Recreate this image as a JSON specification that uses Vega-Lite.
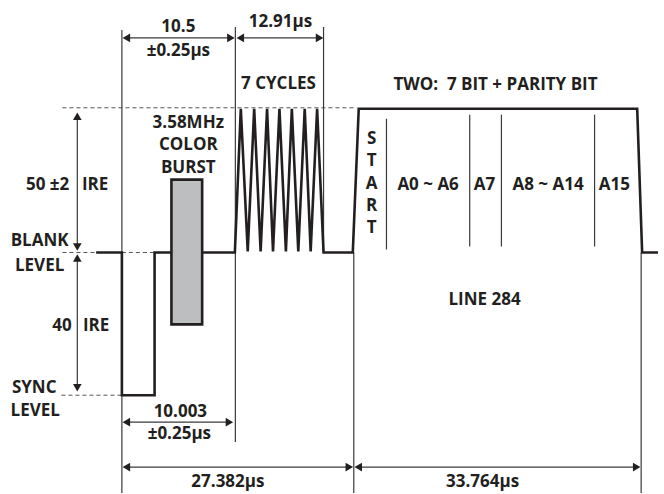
{
  "$schema": "https://vega.github.io/schema/vega-lite/v6.json",
  "width": 664,
  "height": 494,
  "autosize": {"type": "fit", "contains": "padding"},
  "padding": 0,
  "background": "white",
  "config": {"view": {"stroke": null}, "axis": {"disable": true}},
  "datasets": {
    "trace": [
      {"i": 0, "x": 97, "y": 253}, {"i": 1, "x": 123, "y": 253}, {"i": 2, "x": 123, "y": 396},
      {"i": 3, "x": 156, "y": 396}, {"i": 4, "x": 156, "y": 253}, {"i": 5, "x": 237, "y": 253},
      {"i": 6, "x": 243, "y": 109}, {"i": 7, "x": 250, "y": 252}, {"i": 8, "x": 256.5, "y": 109},
      {"i": 9, "x": 263, "y": 252}, {"i": 10, "x": 269.5, "y": 109}, {"i": 11, "x": 275.5, "y": 252},
      {"i": 12, "x": 282, "y": 109}, {"i": 13, "x": 288.5, "y": 252}, {"i": 14, "x": 294.5, "y": 109},
      {"i": 15, "x": 301, "y": 252}, {"i": 16, "x": 307.5, "y": 109}, {"i": 17, "x": 313.5, "y": 252},
      {"i": 18, "x": 320, "y": 109}, {"i": 19, "x": 326.5, "y": 253}, {"i": 20, "x": 356, "y": 253},
      {"i": 21, "x": 362, "y": 109}, {"i": 22, "x": 643, "y": 109}, {"i": 23, "x": 648, "y": 253},
      {"i": 24, "x": 664, "y": 253}
    ],
    "dashes": [
      {"x": 63, "x2": 360, "y": 108, "y2": 108},
      {"x": 63, "x2": 97, "y": 253, "y2": 253},
      {"x": 123, "x2": 156, "y": 253, "y2": 253},
      {"x": 62, "x2": 123, "y": 396, "y2": 396}
    ],
    "rules": [
      {"x": 123, "x2": 123, "y": 30, "y2": 494},
      {"x": 237.5, "x2": 237.5, "y": 27, "y2": 443},
      {"x": 326.5, "x2": 326.5, "y": 27, "y2": 253},
      {"x": 357, "x2": 357, "y": 253, "y2": 494},
      {"x": 647, "x2": 647, "y": 253, "y2": 494},
      {"x": 390, "x2": 390, "y": 119, "y2": 250},
      {"x": 474, "x2": 474, "y": 115, "y2": 247},
      {"x": 506, "x2": 506, "y": 115, "y2": 247},
      {"x": 600, "x2": 600, "y": 115, "y2": 247},
      {"x": 126, "x2": 234, "y": 38, "y2": 38},
      {"x": 241, "x2": 324, "y": 38, "y2": 38},
      {"x": 126, "x2": 233, "y": 423, "y2": 423},
      {"x": 126, "x2": 354, "y": 468, "y2": 468},
      {"x": 360, "x2": 644, "y": 468, "y2": 468},
      {"x": 78, "x2": 78, "y": 116, "y2": 248},
      {"x": 78, "x2": 78, "y": 258, "y2": 390}
    ],
    "heads": [
      {"x": 127.5, "y": 38, "s": "triangle-left"},
      {"x": 233, "y": 38, "s": "triangle-right"},
      {"x": 242.5, "y": 38, "s": "triangle-left"},
      {"x": 322.5, "y": 38, "s": "triangle-right"},
      {"x": 127.5, "y": 423, "s": "triangle-left"},
      {"x": 231.5, "y": 423, "s": "triangle-right"},
      {"x": 127.5, "y": 468, "s": "triangle-left"},
      {"x": 352.5, "y": 468, "s": "triangle-right"},
      {"x": 361.5, "y": 468, "s": "triangle-left"},
      {"x": 642.5, "y": 468, "s": "triangle-right"},
      {"x": 78, "y": 116.5, "s": "triangle-up"},
      {"x": 78, "y": 247.5, "s": "triangle-down"},
      {"x": 78, "y": 258.5, "s": "triangle-up"},
      {"x": 78, "y": 388.5, "s": "triangle-down"}
    ],
    "burst": [{"x": 173, "x2": 204, "y": 180, "y2": 325}],
    "labels": [
      {"t": "10.5", "x": 180, "y": 27},
      {"t": "±0.25µs", "x": 180, "y": 51},
      {"t": "12.91µs", "x": 283, "y": 22},
      {"t": "7 CYCLES", "x": 281, "y": 84},
      {"t": "TWO:\u00a0 7 BIT + PARITY BIT", "x": 500, "y": 85},
      {"t": "3.58MHz", "x": 190, "y": 123},
      {"t": "COLOR", "x": 190, "y": 145},
      {"t": "BURST", "x": 190, "y": 168},
      {"t": "50 ±2", "x": 48, "y": 185},
      {"t": "IRE", "x": 96, "y": 185},
      {"t": "BLANK", "x": 40, "y": 241},
      {"t": "LEVEL", "x": 40, "y": 267},
      {"t": "40", "x": 62.5, "y": 327},
      {"t": "IRE", "x": 97, "y": 327},
      {"t": "SYNC", "x": 34.5, "y": 389},
      {"t": "LEVEL", "x": 35.5, "y": 412},
      {"t": "10.003", "x": 182, "y": 413},
      {"t": "±0.25µs", "x": 181, "y": 435},
      {"t": "27.382µs", "x": 230, "y": 483},
      {"t": "33.764µs", "x": 487, "y": 483},
      {"t": "LINE 284", "x": 489, "y": 301},
      {"t": "S", "x": 375, "y": 139},
      {"t": "T", "x": 375, "y": 161},
      {"t": "A", "x": 375, "y": 184},
      {"t": "R", "x": 375, "y": 206},
      {"t": "T", "x": 375, "y": 228},
      {"t": "A0 ~ A6", "x": 432, "y": 185},
      {"t": "A7", "x": 489, "y": 185},
      {"t": "A8 ~ A14", "x": 553, "y": 185},
      {"t": "A15", "x": 620, "y": 185}
    ]
  },
  "layer": [
    {
      "data": {"name": "dashes"},
      "mark": {"type": "rule", "color": "#555555", "strokeWidth": 1, "strokeDash": [4, 3]},
      "encoding": {
        "x": {"field": "x", "type": "quantitative", "scale": {"domain": [0, 664], "nice": false, "zero": false}},
        "x2": {"field": "x2"},
        "y": {"field": "y", "type": "quantitative", "scale": {"domain": [0, 494], "nice": false, "zero": false, "reverse": true}},
        "y2": {"field": "y2"}
      }
    },
    {
      "data": {"name": "rules"},
      "mark": {"type": "rule", "color": "#3a3a3a", "strokeWidth": 1.2},
      "encoding": {
        "x": {"field": "x", "type": "quantitative"},
        "x2": {"field": "x2"},
        "y": {"field": "y", "type": "quantitative"},
        "y2": {"field": "y2"}
      }
    },
    {
      "data": {"name": "heads"},
      "mark": {"type": "point", "filled": true, "color": "#231f20", "size": 75, "opacity": 1},
      "encoding": {
        "x": {"field": "x", "type": "quantitative"},
        "y": {"field": "y", "type": "quantitative"},
        "shape": {"field": "s", "type": "nominal", "scale": null}
      }
    },
    {
      "data": {"name": "trace"},
      "mark": {"type": "line", "color": "#231f20", "strokeWidth": 2.6, "strokeJoin": "miter", "strokeMiterLimit": 4},
      "encoding": {
        "x": {"field": "x", "type": "quantitative"},
        "y": {"field": "y", "type": "quantitative"},
        "order": {"field": "i", "type": "quantitative"}
      }
    },
    {
      "data": {"name": "burst"},
      "mark": {"type": "rect", "fill": "#bcbec0", "stroke": "#231f20", "strokeWidth": 2.6},
      "encoding": {
        "x": {"field": "x", "type": "quantitative"},
        "x2": {"field": "x2"},
        "y": {"field": "y", "type": "quantitative"},
        "y2": {"field": "y2"}
      }
    },
    {
      "data": {"name": "labels"},
      "mark": {"type": "text", "font": "Open Sans", "fontWeight": "bold", "fontSize": 17, "color": "#231f20", "align": "center", "baseline": "middle"},
      "encoding": {
        "x": {"field": "x", "type": "quantitative"},
        "y": {"field": "y", "type": "quantitative"},
        "text": {"field": "t", "type": "nominal"}
      }
    }
  ]
}
